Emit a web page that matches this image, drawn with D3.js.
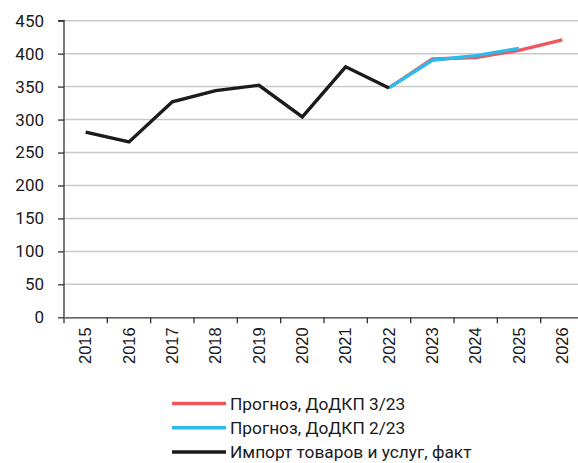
<!DOCTYPE html>
<html><head><meta charset="utf-8">
<script src="https://cdn.jsdelivr.net/npm/d3@7/dist/d3.min.js"></script>
<style>html,body{margin:0;padding:0;background:#fff;overflow:hidden}</style>
</head><body><svg id="c" width="578" height="463"></svg>
<script>
const years = ["2015","2016","2017","2018","2019","2020","2021","2022","2023","2024","2025","2026"];
const factYears = ["2015","2016","2017","2018","2019","2020","2021","2022"];
const factValues = [281, 266, 327, 344, 352, 304, 380, 348];
const fc3Years = ["2022","2023","2024","2025","2026"];
const fc3Values = [348, 392, 394, 405, 421];
const fc2Years = ["2022","2023","2024","2025"];
const fc2Values = [348, 390, 397, 408];
const yTicks = [0,50,100,150,200,250,300,350,400,450];
const legendLabels = ["Прогноз, ДоДКП 3/23","Прогноз, ДоДКП 2/23","Импорт товаров и услуг, факт"];
const colors = ["#f0565c","#2bbbec","#1b1b1b"];

const svg = d3.select("#c");
const mLeft = 64, mRight = 584, mTop = 20.7, mBottom = 317.3;
const x = d3.scaleBand().domain(years).range([mLeft, mRight]).padding(0);
const y = d3.scaleLinear().domain([0,450]).range([mBottom, mTop]);

// gridlines
svg.append("g").selectAll("line").data(yTicks.filter(d=>d>0)).join("line")
  .attr("x1", mLeft).attr("x2", 578)
  .attr("y1", d=>y(d)).attr("y2", d=>y(d))
  .attr("stroke", "#c9c9c9").attr("stroke-width", 1.5);

// y axis
const ya = svg.append("g").attr("transform", `translate(${mLeft},0)`)
  .call(d3.axisLeft(y).tickValues(yTicks).tickSize(6).tickPadding(14));
ya.select(".domain").attr("stroke","#333").attr("stroke-width",1.3).attr("d", `M-6,${y(450)}H0V${y(0)}`);
ya.selectAll(".tick line").attr("stroke","#333").attr("stroke-width",1.3);
ya.selectAll("text").attr("font-family","Roboto, sans-serif").attr("font-size",17).attr("fill","#1a1a1a");

// x axis
const xa = svg.append("g").attr("transform", `translate(0,${mBottom})`)
  .call(d3.axisBottom(x).tickSize(0).tickPadding(0));
xa.select(".domain").attr("stroke","#333").attr("stroke-width",1.3);
xa.selectAll(".tick line").remove();
svg.append("g").selectAll("line").data(years.concat(["end"])).join("line")
  .attr("x1", (d,i)=> mLeft + i*x.bandwidth()).attr("x2", (d,i)=> mLeft + i*x.bandwidth())
  .attr("y1", mBottom).attr("y2", mBottom+6).attr("stroke","#333").attr("stroke-width",1.3);
xa.selectAll(".tick text")
  .attr("font-family","'Liberation Sans', Arial, sans-serif").attr("font-size",16.5).attr("fill","#1a1a1a")
  .attr("transform","translate(0,10) rotate(-90)")
  .attr("text-anchor","end").attr("dy","0.35em").attr("x",0).attr("y",0);

const line = d3.line().x(d=>x(d[0])+x.bandwidth()/2).y(d=>y(d[1]));
const series = [
  {yrs: fc3Years, vals: fc3Values, c: colors[0]},
  {yrs: fc2Years, vals: fc2Values, c: colors[1]},
  {yrs: factYears, vals: factValues, c: colors[2]}
];
series.forEach(s=>{
  svg.append("path").datum(s.yrs.map((yr,i)=>[yr,s.vals[i]]))
    .attr("d", line).attr("fill","none").attr("stroke", s.c)
    .attr("stroke-width", 3.4).attr("stroke-linejoin","miter");
});

// legend
const lg = svg.append("g");
legendLabels.forEach((t,i)=>{
  const yy = 403.5 + i*24.2;
  lg.append("line").attr("x1",172).attr("x2",226).attr("y1",yy).attr("y2",yy)
    .attr("stroke",colors[i]).attr("stroke-width",3.5);
  lg.append("text").attr("x",230).attr("y",yy).attr("dy","0.35em")
    .attr("font-family","Roboto, sans-serif").attr("font-size",17.3).attr("fill","#1a1a1a").text(t);
});
</script></body></html>
